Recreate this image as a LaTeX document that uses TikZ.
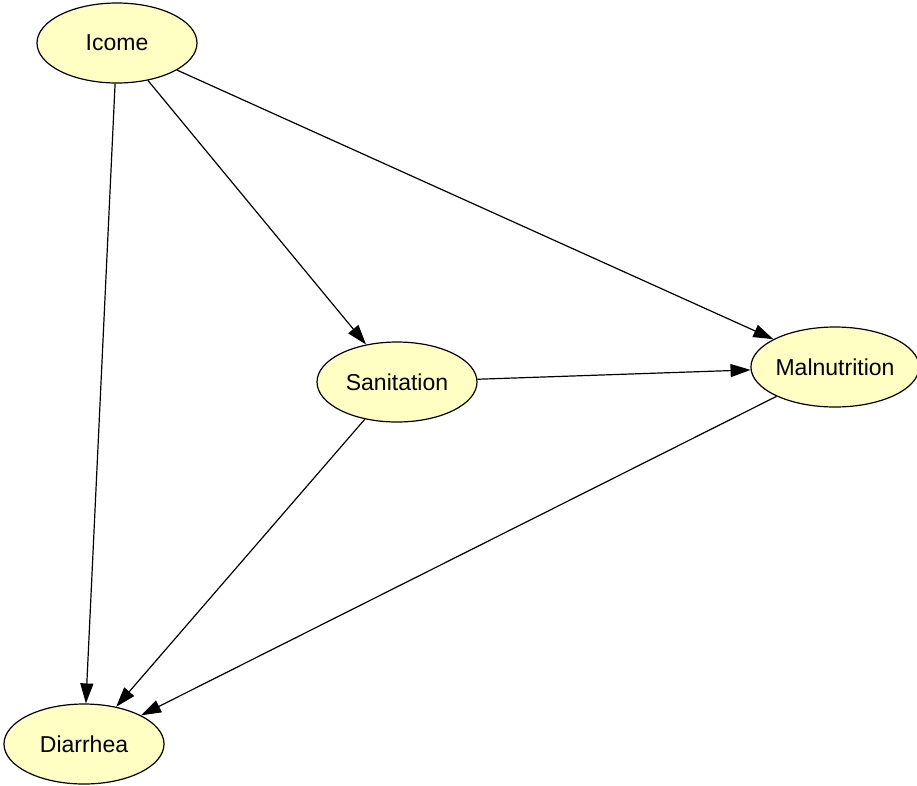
\documentclass[tikz,border=0pt]{standalone}
\usepackage{fontspec}
\setmainfont{Liberation Sans}
\usepackage{tikz}
\usetikzlibrary{shapes.geometric,arrows.meta,positioning,calc}
\definecolor{nodefill}{RGB}{255,255,196}

\begin{document}
\begin{tikzpicture}[
    x=1pt, y=-1pt,
    var/.style = {ellipse, draw, line width=1.2pt, fill=nodefill, minimum width=160pt, minimum height=80pt, inner sep=0pt, font=\fontsize{23}{26}\selectfont},
    arrow/.style = {-{Triangle[length=20pt,width=13pt]}, line width=1.2pt}
]
    \useasboundingbox (0,0) rectangle (917,785);

    % Variables
    \node[var] (icome) at (117,43) {Icome};
    \node[var] (sanit) at (397,382) {Sanitation};
    \node[var] (malnut) at (835,367) {Malnutrition};
    \node[var] (diarr) at (84,744) {Diarrhea};

    % Arrows
    \draw[arrow] (icome) -- (diarr);
    \draw[arrow] (icome) -- (sanit);
    \draw[arrow] (icome) -- (malnut);
    \draw[arrow] (sanit) -- (malnut);
    \draw[arrow] (sanit) -- (diarr);
    \draw[arrow] (malnut) -- (diarr);

\end{tikzpicture}
\end{document}
